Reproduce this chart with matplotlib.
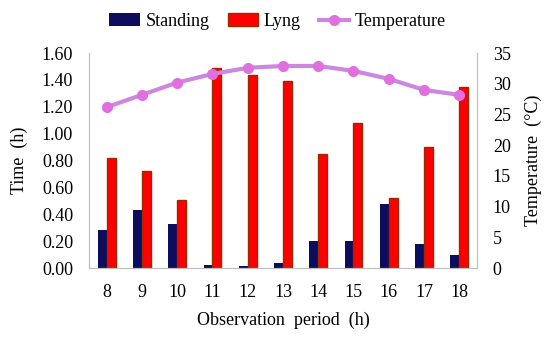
import matplotlib.pyplot as plt
import numpy as np

# data
hours = ['8', '9', '10', '11', '12', '13', '14', '15', '16', '17', '18']
standing = [0.28, 0.43, 0.33, 0.02, 0.015, 0.04, 0.20, 0.20, 0.48, 0.18, 0.10]
lying = [0.82, 0.72, 0.51, 1.49, 1.44, 1.39, 0.85, 1.08, 0.52, 0.90, 1.35]
temperature = [26.2, 28.2, 30.2, 31.6, 32.6, 32.9, 32.9, 32.1, 30.8, 29.0, 28.2]

C_STAND = '#0d0d5e'
C_LYING = '#ff0000'
C_LYING_EDGE = '#9a2a00'
C_TEMP = '#cc88dd'
C_TEMP_MK = '#e070e0'
C_SPINE = '#bfbfbf'

plt.rcParams['font.family'] = ['Liberation Serif', 'DejaVu Serif']
FS = 13

fig = plt.figure(figsize=(5.5, 3.38), dpi=100)
ax = fig.add_axes([0.162, 0.207, 0.705, 0.636])
ax2 = ax.twinx()

x = np.arange(len(hours))
w = 0.25
b1 = ax.bar(x - w / 2, standing, w, color=C_STAND, label='Standing', zorder=2)
b2 = ax.bar(x + w / 2, lying, w, color=C_LYING, edgecolor=C_LYING_EDGE,
            linewidth=1.0, label='Lyng', zorder=2)

l1, = ax2.plot(x, temperature, color=C_TEMP, linewidth=3, marker='o',
               markersize=7, markerfacecolor=C_TEMP_MK, markeredgecolor=C_TEMP_MK,
               label='Temperature', zorder=3)

ax.set_xlim(-0.5, len(hours) - 0.5)
ax.set_ylim(0, 1.6)
ax.set_yticks(np.arange(0, 1.61, 0.2))
ax.set_yticklabels([f'{v:.2f}' for v in np.arange(0, 1.61, 0.2)])
ax.set_xticks(x)
ax.set_xticklabels(hours)
ax2.set_ylim(0, 35)
ax2.set_yticks(range(0, 36, 5))

ax.set_xlabel('Observation  period  (h)', fontsize=FS, labelpad=8)
ax.set_ylabel('Time  (h)', fontsize=FS, labelpad=10)
ax2.set_ylabel('Temperature  (°C)', fontsize=FS, labelpad=10)

for a in (ax, ax2):
    a.tick_params(axis='both', labelsize=FS, length=0, pad=11.5)
    for s in a.spines.values():
        s.set_color(C_SPINE)
        s.set_linewidth(0.8)
    a.spines['top'].set_visible(False)

fig.legend(handles=[b1, b2, l1], loc='upper center', bbox_to_anchor=(0.505, 1.01),
           ncol=3, frameon=False, fontsize=FS, handlelength=1.7,
           handletextpad=0.3, columnspacing=1.0)

fig.savefig('out.png', dpi=100)
